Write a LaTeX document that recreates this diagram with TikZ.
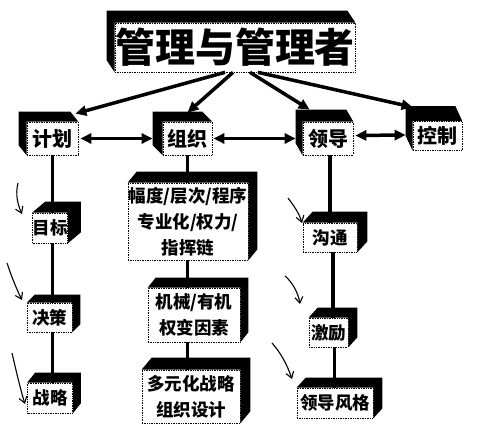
\documentclass[tikz,border=0pt]{standalone}
\usepackage{fontspec}
\setmainfont{Noto Sans CJK SC}
\usetikzlibrary{calc,arrows.meta}
\newcommand\sideR[3]{% name, dx, dy  (extrusion up-right)
  \fill[black] (#1.north west) -- ++(#2,-#3) -- ($(#1.north east)+(#2,-#3)$)
    -- ($(#1.south east)+(#2,-#3)$) -- (#1.south east) -- (#1.north east) -- cycle;}
\newcommand\sideL[3]{% name, dx, dy  (extrusion up-left)
  \fill[black] (#1.north east) -- ++(-#2,-#3) -- ($(#1.north west)+(-#2,-#3)$)
    -- ($(#1.south west)+(-#2,-#3)$) -- (#1.south west) -- (#1.north west) -- cycle;}
\tikzset{
  front/.style={draw=black, densely dotted, line width=0.7pt, fill=white, inner sep=0pt,
    font=\fontsize{17.5}{26}\selectfont\bfseries, align=center},
  topfront/.style={front, font=\fontsize{20}{24}\selectfont\bfseries},
  titlefront/.style={front, font=\fontsize{40}{44}\selectfont\bfseries},
  vline/.style={line width=3.5pt, black},
  fan/.style={line width=3.5pt, black, -{Triangle[length=11pt,width=10pt]}},
  dbl/.style={line width=3.5pt, black, {Triangle[length=11pt,width=10pt]}-{Triangle[length=11pt,width=10pt]}},
  hand/.style={line width=1.1pt, black, -{Straight Barb[length=6pt,width=8pt]}}
}
\begin{document}
\begin{tikzpicture}[x=1pt,y=-1pt]
\useasboundingbox (0,0) rectangle (488,433);
% nodes
\node[titlefront, minimum width=196, minimum height=49] (title) at (235,47.5) {管理与管理者};
\sideL{title}{8}{12}
\node[topfront, minimum width=51, minimum height=33] (jh) at (52.5,138.5) {计划};
\sideL{jh}{8}{10}
\node[topfront, minimum width=49, minimum height=33] (zz) at (187.5,138.5) {组织};
\sideL{zz}{10}{10}
\node[topfront, minimum width=50, minimum height=33] (ld) at (328,138.5) {领导};
\sideL{ld}{7}{12}
\node[topfront, minimum width=49, minimum height=29] (kz) at (437.5,136) {控制};
\sideL{kz}{7}{15}
\node[front, minimum width=34, minimum height=30] (mb) at (50,228) {目标};
\sideR{mb}{13}{11}
\node[front, minimum width=45, minimum height=29] (jc) at (49.5,317.5) {决策};
\sideR{jc}{8}{8}
\node[front, minimum width=45, minimum height=30] (zl) at (50,398) {战略};
\sideR{zl}{8}{10}
\node[front, minimum width=120, minimum height=77] (fd) at (188,221.5) {幅度/层次/程序\\专业化/权力/\\指挥链};
\sideR{fd}{9}{11}
\node[front, minimum width=92, minimum height=54] (jx) at (194,315) {机械/有机\\权变因素};
\sideR{jx}{8}{10}
\node[front, minimum width=98, minimum height=53] (dy) at (191,396.5) {多元化战略\\组织设计};
\sideR{dy}{10}{12}
\node[front, minimum width=54, minimum height=29] (gt) at (330,237.5) {沟通};
\sideR{gt}{10}{11}
\node[front, minimum width=39, minimum height=29] (jl) at (328.5,332.5) {激励};
\sideR{jl}{9}{10}
\node[front, minimum width=76, minimum height=30] (fg) at (335,403) {领导风格};
\sideR{fg}{9}{10}
% connector end coordinates for the leadership column
\coordinate (gtA) at ($(gt.south)+(3,0)$);
\coordinate (jlT) at (gtA |- jl.north);
\coordinate (jlA) at ($(jl.south)+(6,0)$);
\coordinate (fgT) at (jlA |- fg.north);
% fan arrows from title
\draw[fan] ($(title.south)+(-10,0)$) -- ($(jh.north east)+(-3,-8)$);
\draw[fan] ($(title.south)+(-2,0)$) -- ($(zz.north)+(0,-9)$);
\draw[fan] ($(title.south)+(15,0)$) -- ($(ld.north west)+(7,-12)$);
\draw[fan] ($(title.south)+(23,0)$) -- ($(kz.north west)+(0,-14)$);
% double arrows
\draw[dbl] ($(jh.east)+(2,0)$) -- ($(zz.west)+(-10,0)$);
\draw[dbl] ($(zz.east)+(1,0)$) -- ($(ld.west)+(-7,0)$);
\draw[dbl] ($(ld.east)+(2,-3)$) -- ($(kz.west)+(-7,-1)$);
% vertical lines
\draw[vline] (jh.south) -- (jh.south |- mb.north);
\draw[vline] (jh.south |- mb.south) -- (jh.south |- jc.north);
\draw[vline] (jh.south |- jc.south) -- (jh.south |- zl.north);
\draw[vline] (zz.south) -- (zz.south |- fd.north);
\draw[vline] (zz.south |- fd.south) -- (zz.south |- jx.north);
\draw[vline] (zz.south |- jx.south) -- (zz.south |- dy.north);
\draw[vline] (gt.north |- ld.south) -- (gt.north);
\draw[vline] (gtA) -- (jlT);
\draw[vline] (jlA) -- (fgT);
% hand-drawn marks
\draw[hand] (18,183) .. controls (15,195) and (18,205) .. (22,214);
\draw[hand] (7,263) .. controls (12,278) and (17,290) .. (22,300);
\draw[hand] (12,353) .. controls (16,370) and (20,388) .. (25,404);
\draw[hand] (288,198) .. controls (294,206) and (299,213) .. (302,223);
\draw[hand] (285,276) .. controls (292,282) and (298,292) .. (300,304);
\draw[hand] (272,343) .. controls (280,352) and (287,364) .. (292,379);
\end{tikzpicture}
\end{document}
